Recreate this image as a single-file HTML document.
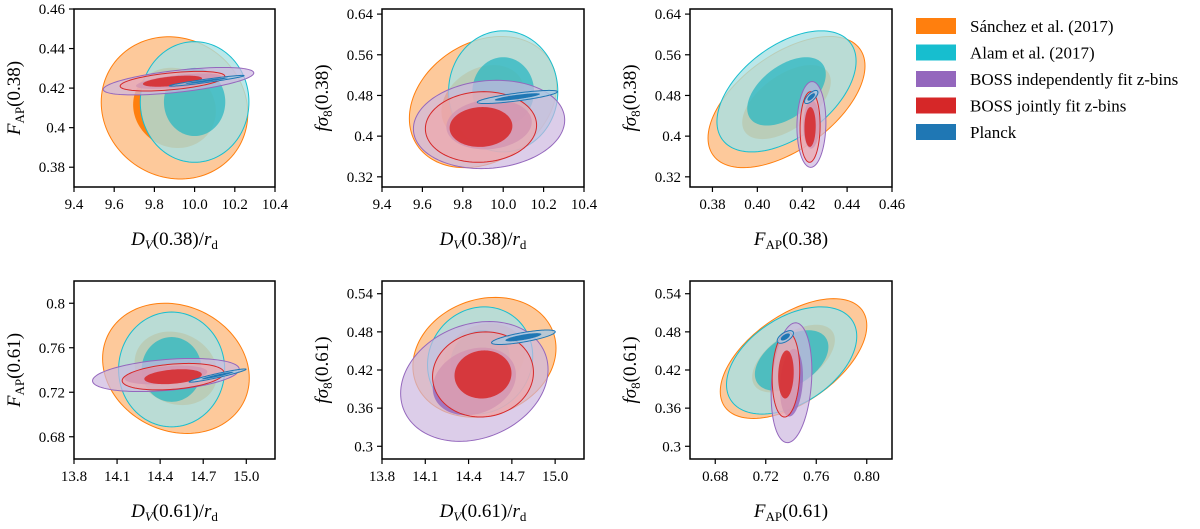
<!DOCTYPE html>
<html><head><meta charset="utf-8"><style>
html,body{margin:0;padding:0;background:#fff;}
svg{display:block;font-family:"Liberation Serif",serif;}
</style></head><body>
<svg id="fig" width="1200" height="529" viewBox="0 0 1200 529" xmlns="http://www.w3.org/2000/svg"></svg>
<script>
// Ellipse params per panel: [cx, cy, sigmaX, sigmaY, rho]
const sanchez = [[9.9,0.41,0.147,0.0145,-0.08],[9.9,0.467,0.147,0.052,0.25],[0.413,0.467,0.0141,0.052,0.55],[14.51,0.7415,0.206,0.0236,-0.15],[14.51,0.44,0.2,0.038,0.15],[0.742,0.438,0.0234,0.038,0.55]];
const alam = [[10.0,0.413,0.109,0.0123,0],[10.0,0.488,0.109,0.048,0],[0.413,0.488,0.0125,0.048,0.5],[14.48,0.7405,0.149,0.0208,0],[14.48,0.435,0.147,0.034,0.08],[0.7405,0.435,0.0208,0.034,0.45]];
const bossIndep = [[9.92,0.4235,0.151,0.0028,0.6],[9.93,0.423,0.151,0.035,0.1],[0.4241,0.423,0.0026,0.034,0.05],[14.44,0.7355,0.206,0.006,0.35],[14.44,0.402,0.206,0.038,0.2],[0.7404,0.40,0.0065,0.038,0.2]];
const bossJoint = [[9.89,0.4235,0.105,0.002,0.5],[9.89,0.418,0.111,0.028,0.05],[0.4235,0.418,0.0018,0.028,0.05],[14.49,0.734,0.143,0.0048,0.3],[14.5,0.413,0.141,0.027,0.05],[0.736,0.413,0.0044,0.027,0.1]];
const planck = [[10.06,0.4237,0.075,0.0011,0.95],[10.07,0.477,0.08,0.0052,0.8],[0.424,0.477,0.0012,0.0052,0.7],[14.8,0.735,0.08,0.0024,0.95],[14.78,0.4715,0.089,0.0046,0.75],[0.7355,0.472,0.0026,0.004,0.6]];
const seriesNames = ["Sánchez et al. (2017)","Alam et al. (2017)","BOSS independently fit z-bins","BOSS jointly fit z-bins","Planck"];
const seriesColors = ["#ff7f0e","#17becf","#9467bd","#d62728","#1f77b4"];
const xTicks = [[9.4,9.6,9.8,10.0,10.2,10.4],[9.4,9.6,9.8,10.0,10.2,10.4],[0.38,0.40,0.42,0.44,0.46],[13.8,14.1,14.4,14.7,15.0],[13.8,14.1,14.4,14.7,15.0],[0.68,0.72,0.76,0.80]];
const xTickLabels = [["9.4","9.6","9.8","10.0","10.2","10.4"],["9.4","9.6","9.8","10.0","10.2","10.4"],["0.38","0.40","0.42","0.44","0.46"],["13.8","14.1","14.4","14.7","15.0"],["13.8","14.1","14.4","14.7","15.0"],["0.68","0.72","0.76","0.80"]];
const yTicks = [[0.38,0.40,0.42,0.44,0.46],[0.32,0.40,0.48,0.56,0.64],[0.32,0.40,0.48,0.56,0.64],[0.68,0.72,0.76,0.80],[0.30,0.36,0.42,0.48,0.54],[0.30,0.36,0.42,0.48,0.54]];
const yTickLabels = [["0.38","0.4","0.42","0.44","0.46"],["0.32","0.4","0.48","0.56","0.64"],["0.32","0.4","0.48","0.56","0.64"],["0.68","0.72","0.76","0.8"],["0.3","0.36","0.42","0.48","0.54"],["0.3","0.36","0.42","0.48","0.54"]];
const xLims = [[9.4,10.4],[9.4,10.4],[0.37,0.46],[13.8,15.2],[13.8,15.2],[0.66,0.82]];
const yLims = [[0.37,0.46],[0.30,0.65],[0.30,0.65],[0.66,0.82],[0.28,0.56],[0.28,0.56]];

const NS="http://www.w3.org/2000/svg";
const svg=document.getElementById('fig');
function mk(tag,attrs,parent){const e=document.createElementNS(NS,tag);for(const k in attrs)e.setAttribute(k,attrs[k]);(parent||svg).appendChild(e);return e;}
const boxes=[[74,9,275,187],[382,9,584,187],[690,9,892,187],[74,281,275,459],[382,281,584,459],[690,281,892,459]];
const labelsX=[["D","V","(0.38)/","r","d"],["D","V","(0.38)/","r","d"],["F","AP","(0.38)"],["D","V","(0.61)/","r","d"],["D","V","(0.61)/","r","d"],["F","AP","(0.61)"]];
const labelsY=[["F","AP","(0.38)"],["fσ","8","(0.38)"],["fσ","8","(0.38)"],["F","AP","(0.61)"],["fσ","8","(0.61)"],["fσ","8","(0.61)"]];
const allSeries=[sanchez,alam,bossIndep,bossJoint,planck];
const seriesKeys=["sanchez","alam","boss-indep","boss-joint","planck"];
const outerFill=["#fdc08a","#a9e1e4","#cdb8e0","#eea8ac","#a6c8e2"];
const outerAlpha=[0.85,0.8,0.7,0.7,0.8];
const innerFill=["#ff7f0e","#2ab7c2","#9467bd","#d62728","#1f77b4"];
const innerAlpha=[1,0.75,0.8,0.85,1];

function addLabel(parent,parts,x,y,rot){
  const t=mk('text',{x:x,y:y,'font-size':19,'text-anchor':'middle'},parent);
  if(rot) t.setAttribute('transform',`rotate(-90 ${x} ${y})`);
  for(let i=0;i<parts.length;i++){
    const s=mk('tspan',{},t);
    if(parts.length===5){
      if(i===0||i===3){s.setAttribute('font-style','italic');}
      if(i===1){s.setAttribute('font-style','italic');s.setAttribute('font-size','13');s.setAttribute('dy','4');}
      if(i===2){s.setAttribute('dy','-4');}
      if(i===4){s.setAttribute('font-size','13');s.setAttribute('dy','4');}
    }else{
      if(i===0)s.setAttribute('font-style','italic');
      if(i===1){s.setAttribute('font-size','13');s.setAttribute('dy','4');}
      if(i===2)s.setAttribute('dy','-4');
    }
    s.textContent=parts[i];
  }
  return t;
}

for(let p=0;p<6;p++){
  const [L,T,R,B]=boxes[p];
  const g=mk('g',{});
  
  
  const xs=v=>L+(v-xLims[p][0])/(xLims[p][1]-xLims[p][0])*(R-L);
  const ys=v=>B-(v-yLims[p][0])/(yLims[p][1]-yLims[p][0])*(B-T);
  const cid='clip'+p;
  const cp=mk('clipPath',{id:cid},g);mk('rect',{x:L,y:T,width:R-L,height:B-T},cp);
  const plot=mk('g',{'clip-path':`url(#${cid})`},g);
  allSeries.forEach((ser,si)=>{
    const [cx,cy,sx,sy,rho]=ser[p];
    const sg=mk('g',{},plot);
    
    
    [2.48,1.4].forEach((k,li)=>{
      let d='';
      for(let i=0;i<=120;i++){
        const t=i/120*2*Math.PI;
        const x=cx+k*sx*Math.cos(t);
        const y=cy+k*sy*(rho*Math.cos(t)+Math.sqrt(1-rho*rho)*Math.sin(t));
        d+=(i?'L':'M')+xs(x).toFixed(2)+','+ys(y).toFixed(2);
      }
      const e=mk('path',{d:d+'Z',fill:li?innerFill[si]:outerFill[si],'fill-opacity':li?innerAlpha[si]:outerAlpha[si],stroke:li?'none':seriesColors[si],'stroke-width':1},sg);
      
      
    });
  });
  mk('rect',{x:L,y:T,width:R-L,height:B-T,fill:'none',stroke:'#000','stroke-width':1.5},g);
  const xa=mk('g',{},g);
  xTicks[p].forEach((v,i)=>{const x=xs(v);mk('line',{x1:x,x2:x,y1:B,y2:B+5,stroke:'#000','stroke-width':1.2},xa);
    const t=mk('text',{x:x,y:B+22,'font-size':15,'text-anchor':'middle'},xa);t.textContent=xTickLabels[p][i];
    });
  const ya=mk('g',{},g);
  yTicks[p].forEach((v,i)=>{const y=ys(v);mk('line',{x1:L-5,x2:L,y1:y,y2:y,stroke:'#000','stroke-width':1.2},ya);
    const t=mk('text',{x:L-9,y:y+5,'font-size':15,'text-anchor':'end'},ya);t.textContent=yTickLabels[p][i];
    });
  const xl=addLabel(g,labelsX[p],(L+R)/2,B+58,false);
  
  const yl=addLabel(g,labelsY[p],L-54,(T+B)/2,true);
  
}
// legend
const lg=mk('g',{});


seriesNames.forEach((n,i)=>{
  const y=26+i*26.5;
  const e=mk('g',{},lg);
  
  
  mk('rect',{x:916,y:y-8,width:40,height:16,fill:seriesColors[i]},e);
  const t=mk('text',{x:970,y:y+6,'font-size':17},e);t.textContent=n;
});
</script>
</body></html>
